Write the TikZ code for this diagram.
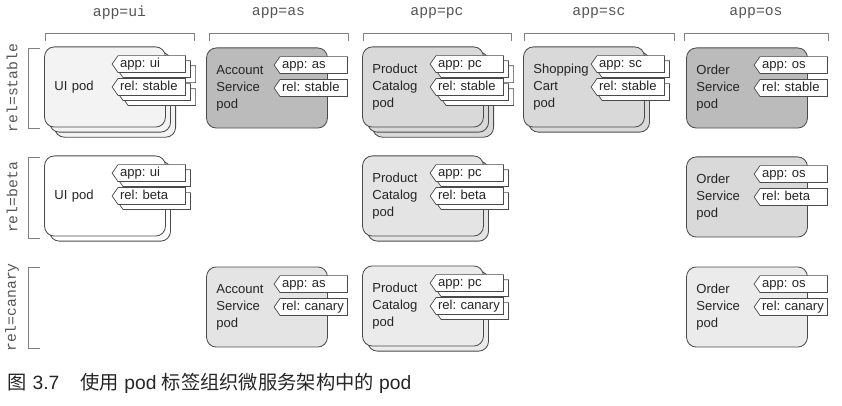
\documentclass[tikz,border=0pt]{standalone}
\usepackage{fontspec}
\setmainfont{Liberation Sans}
\setmonofont{Liberation Mono}
\newfontfamily\cjk{Noto Sans CJK SC}
\usetikzlibrary{shapes.symbols,shadows}

\definecolor{podline}{HTML}{4A4A4A}
\definecolor{brackline}{HTML}{808080}
\definecolor{labeltext}{HTML}{555555}
\definecolor{gpale}{HTML}{F3F3F3}
\definecolor{glight}{HTML}{E4E4E4}
\definecolor{gmid}{HTML}{D9D9D9}
\definecolor{gdark}{HTML}{BBBBBB}
\definecolor{gfaint}{HTML}{EBEBEB}

\newcommand\tagfont{\fontsize{9.3}{11}\selectfont\frenchspacing\hyphenpenalty=10000\relax}

\begin{document}
\begin{tikzpicture}[x=0.025cm, y=-0.025cm,
    pod/.style = {draw=podline, line width=0.6pt, rounded corners=7pt, minimum width=86pt, minimum height=57pt, text width=72pt, inner xsep=7pt, align=left, font=\fontsize{9.3}{12.1}\selectfont, text=black!85},
    tag/.style = {signal, signal to=west, signal pointer angle=110, draw=podline, line width=0.5pt, fill=white, minimum height=12pt, text width=45pt, inner xsep=1.5pt, inner ysep=0pt, text height=7pt, text depth=2pt, align=left, font=\tagfont, text=black!85},
    stacktwo/.style = {copy shadow={shadow xshift=3.6pt, shadow yshift=-3.6pt}},
    stackthree/.style = {copy shadow={shadow xshift=7.2pt, shadow yshift=-7.2pt}, copy shadow={shadow xshift=3.6pt, shadow yshift=-3.6pt}},
    axis/.style = {font=\ttfamily\fontsize{10.5}{12}\selectfont, text=labeltext},
    bracket/.style = {draw=brackline, line width=0.6pt}]

    \useasboundingbox (0,0) rectangle (842,406);

    % app brackets on top
    \foreach \xa/\xb/\lab in {45/194/ui, 209/348/as, 363/511/pc, 524/674/sc, 684/828/os}{
        \draw[bracket] (\xa,41) -- (\xa,33) -- (\xb,33) -- (\xb,41);
        \node[axis] (app-\lab) at ({(\xa+\xb)/2},13) {app=\lab};
    }

    % rel brackets on the left
    \foreach \ya/\yb/\lab in {48/128/stable, 157/238/beta, 267/348/canary}{
        \draw[bracket] (40,\ya) -- (28,\ya) -- (28,\yb) -- (40,\yb);
        \node[axis, rotate=90] (rel-\lab) at (12,{(\ya+\yb)/2}) {rel=\lab};
    }

    % rel=stable
    \node[pod, stackthree, fill=gpale] (uistable) at (105,87) {UI pod};
    \node[tag, stackthree, anchor=east] (uistable-app) at ([xshift=14.2pt, yshift=16.3pt]uistable.east) {app: ui};
    \node[tag, stackthree, anchor=east] (uistable-rel) at ([xshift=14.2pt]uistable.east) {rel: stable};

    \node[pod, fill=gdark] (asstable) at (267,88) {Account\\Service\\pod};
    \node[tag, anchor=east] (asstable-app) at ([xshift=14.2pt, yshift=16.3pt]asstable.east) {app: as};
    \node[tag, anchor=east] (asstable-rel) at ([xshift=14.2pt]asstable.east) {rel: stable};

    \node[pod, stackthree, fill=gmid] (pcstable) at (423,87) {Product\\Catalog\\pod};
    \node[tag, stackthree, anchor=east] (pcstable-app) at ([xshift=14.2pt, yshift=16.3pt]pcstable.east) {app: pc};
    \node[tag, stackthree, anchor=east] (pcstable-rel) at ([xshift=14.2pt]pcstable.east) {rel: stable};

    \node[pod, stacktwo, fill=gmid] (scstable) at (584,87) {Shopping\\Cart\\pod};
    \node[tag, stacktwo, anchor=east] (scstable-app) at ([xshift=14.2pt, yshift=16.3pt]scstable.east) {app: sc};
    \node[tag, stacktwo, anchor=east] (scstable-rel) at ([xshift=14.2pt]scstable.east) {rel: stable};

    \node[pod, fill=gdark] (osstable) at (747,88) {Order\\Service\\pod};
    \node[tag, anchor=east] (osstable-app) at ([xshift=14.2pt, yshift=16.3pt]osstable.east) {app: os};
    \node[tag, anchor=east] (osstable-rel) at ([xshift=14.2pt]osstable.east) {rel: stable};

    % rel=beta
    \node[pod, stacktwo, fill=white] (uibeta) at (105,196) {UI pod};
    \node[tag, stacktwo, anchor=east] (uibeta-app) at ([xshift=14.2pt, yshift=16.3pt]uibeta.east) {app: ui};
    \node[tag, stacktwo, anchor=east] (uibeta-rel) at ([xshift=14.2pt]uibeta.east) {rel: beta};

    \node[pod, stacktwo, fill=glight] (pcbeta) at (423,196) {Product\\Catalog\\pod};
    \node[tag, stacktwo, anchor=east] (pcbeta-app) at ([xshift=14.2pt, yshift=16.3pt]pcbeta.east) {app: pc};
    \node[tag, stacktwo, anchor=east] (pcbeta-rel) at ([xshift=14.2pt]pcbeta.east) {rel: beta};

    \node[pod, fill=gmid] (osbeta) at (747,197) {Order\\Service\\pod};
    \node[tag, anchor=east] (osbeta-app) at ([xshift=14.2pt, yshift=16.3pt]osbeta.east) {app: os};
    \node[tag, anchor=east] (osbeta-rel) at ([xshift=14.2pt]osbeta.east) {rel: beta};

    % rel=canary
    \node[pod, fill=glight] (ascanary) at (267,307) {Account\\Service\\pod};
    \node[tag, anchor=east] (ascanary-app) at ([xshift=14.2pt, yshift=16.3pt]ascanary.east) {app: as};
    \node[tag, anchor=east] (ascanary-rel) at ([xshift=14.2pt]ascanary.east) {rel: canary};

    \node[pod, stacktwo, fill=gfaint] (pccanary) at (423,306) {Product\\Catalog\\pod};
    \node[tag, stacktwo, anchor=east] (pccanary-app) at ([xshift=14.2pt, yshift=16.3pt]pccanary.east) {app: pc};
    \node[tag, stacktwo, anchor=east] (pccanary-rel) at ([xshift=14.2pt]pccanary.east) {rel: canary};

    \node[pod, fill=gfaint] (oscanary) at (747,307) {Order\\Service\\pod};
    \node[tag, anchor=east] (oscanary-app) at ([xshift=14.2pt, yshift=16.3pt]oscanary.east) {app: os};
    \node[tag, anchor=east] (oscanary-rel) at ([xshift=14.2pt]oscanary.east) {rel: canary};

    % caption
    \node[anchor=west, font=\fontsize{13.7}{15}\selectfont, text=black!85] (caption) at (3,383) {{\cjk 图} 3.7\hspace{1.1em}{\cjk 使用} pod {\cjk 标签组织微服务架构中的} pod};

\end{tikzpicture}
\end{document}
